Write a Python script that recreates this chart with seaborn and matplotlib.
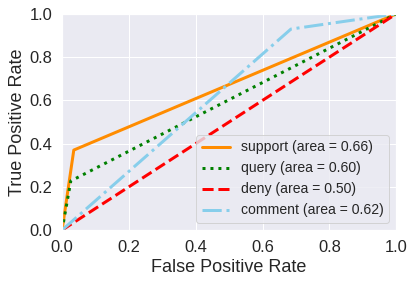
import numpy as np
import pandas as pd
import matplotlib
matplotlib.use('Agg')
import matplotlib.pyplot as plt
import seaborn as sns

# ROC points
classes = ['support', 'query', 'deny', 'comment']
aucs = [0.66, 0.60, 0.50, 0.62]
fpr = {
    'support': [0.0, 0.035, 1.0],
    'query': [0.0, 0.026, 1.0],
    'deny': [0.0, 1.0],
    'comment': [0.0, 0.685, 1.0],
}
tpr = {
    'support': [0.0, 0.37, 1.0],
    'query': [0.0, 0.227, 1.0],
    'deny': [0.0, 1.0],
    'comment': [0.0, 0.93, 1.0],
}
colors = ['darkorange', 'green', 'red', 'skyblue']
styles = ['-', ':', '--', '-.']

sns.set(font_scale=1.5)
plt.rcParams['font.family'] = ['Liberation Sans', 'DejaVu Sans']

fig, ax = plt.subplots(figsize=(414 / 72, 284 / 72), dpi=72)
for c, auc, col, ls in zip(classes, aucs, colors, styles):
    df = pd.DataFrame({'fpr': fpr[c], 'tpr': tpr[c]})
    sns.lineplot(data=df, x='fpr', y='tpr', ax=ax, color=col, linestyle=ls,
                 lw=3, sort=False, label=f'{c} (area = {auc:.2f})')

ax.set_xlim(0, 1)
ax.set_ylim(0, 1)
ax.set_xlabel('False Positive Rate')
ax.set_ylabel('True Positive Rate')
ax.legend(loc='lower right', fontsize=14)
plt.subplots_adjust(left=0.15, right=0.957, top=0.951, bottom=0.19)
plt.savefig('out.png', dpi=72)
